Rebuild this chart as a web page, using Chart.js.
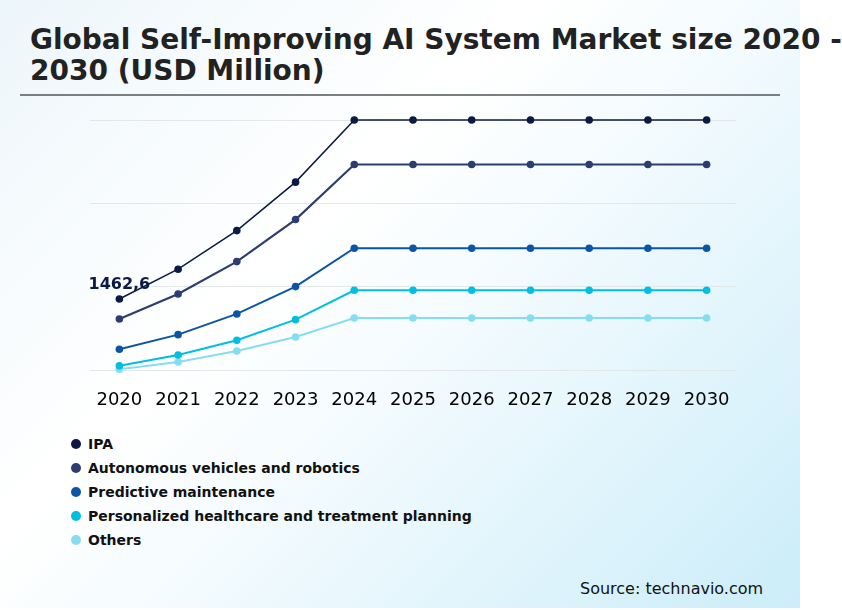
<!DOCTYPE html>
<html>
<head>
<meta charset="utf-8">
<script src="https://cdn.jsdelivr.net/npm/chart.js@4/dist/chart.umd.min.js"></script>
<style>
  html, body { margin: 0; padding: 0; background: #ffffff; }
  body { width: 842px; height: 610px; position: relative; overflow: hidden; font-family: "DejaVu Sans", sans-serif; }
  #bg { position: absolute; left: 0; top: 0; width: 800px; height: 608px;
        background: linear-gradient(135deg, #edf6fb 0%, #ffffff 38%, #f4fbfe 55%, #cbedf9 100%); }
  #title { position: absolute; left: 30px; top: 24px; font-size: 28px; font-weight: bold; color: #222222;
           line-height: 31px; white-space: nowrap; }
  #rule { position: absolute; left: 20px; top: 94px; width: 760px; height: 2px; background: #7a7f80; }
  #wrap { position: absolute; left: 0; top: 0; width: 842px; height: 420px; }
  #legend { position: absolute; left: 71px; top: 432px; }
  .item { height: 24px; display: flex; align-items: center; font-size: 14px; font-weight: bold; color: #111111; }
  .dot { width: 10px; height: 10px; border-radius: 50%; margin-right: 7px; flex: none; }
  #source { position: absolute; left: 580px; top: 579px; font-size: 16px; color: #111111; }
</style>
</head>
<body>
<div id="bg"></div>
<div id="title">Global Self-Improving AI System Market size 2020 -<br>2030 (USD Million)</div>
<div id="rule"></div>
<div id="wrap"><canvas id="c" width="842" height="420"></canvas></div>
<div id="legend"></div>
<div id="source">Source: technavio.com</div>
<script>
const years = ["2020","2021","2022","2023","2024","2025","2026","2027","2028","2029","2030"];
const seriesNames = ["IPA","Autonomous vehicles and robotics","Predictive maintenance","Personalized healthcare and treatment planning","Others"];
const ipa          = [1462.6, 2076, 2872, 3870, 5150, 5150, 5150, 5150, 5150, 5150, 5150];
const autonomous   = [1052, 1567, 2233, 3099, 4233, 4233, 4233, 4233, 4233, 4233, 4233];
const predictive   = [427, 728, 1155, 1718, 2509, 2509, 2509, 2509, 2509, 2509, 2509];
const personalized = [89, 309, 612, 1037, 1643, 1643, 1643, 1643, 1643, 1643, 1643];
const others       = [14, 165, 392, 680, 1072, 1072, 1072, 1072, 1072, 1072, 1072];
const axisMin = 0;
const axisMax = 5150;

const colors = ["#0b1a44", "#2d3e6e", "#0b56a4", "#00bfe0", "#85def0"];
const widths = [1.5, 2.2, 2, 2, 2];
const values = [ipa, autonomous, predictive, personalized, others];

const legend = document.getElementById('legend');
seriesNames.forEach((n, i) => {
  const d = document.createElement('div'); d.className = 'item';
  const dot = document.createElement('span'); dot.className = 'dot'; dot.style.background = colors[i];
  const t = document.createElement('span'); t.textContent = n;
  d.appendChild(dot); d.appendChild(t); legend.appendChild(d);
});

const labelPlugin = {
  id: 'firstLabel',
  afterDatasetsDraw(chart) {
    const meta = chart.getDatasetMeta(0);
    const pt = meta.data[0];
    const ctx = chart.ctx;
    ctx.save();
    ctx.font = 'bold 16px "DejaVu Sans"';
    ctx.fillStyle = colors[0];
    ctx.textAlign = 'center';
    ctx.textBaseline = 'middle';
    ctx.fillText(String(ipa[0]).replace('.', ','), pt.x, pt.y - 14);
    ctx.restore();
  }
};

new Chart(document.getElementById('c'), {
  type: 'line',
  data: {
    labels: years,
    datasets: values.map((v, i) => ({
      label: seriesNames[i],
      data: v,
      borderColor: colors[i],
      backgroundColor: colors[i],
      borderWidth: widths[i],
      pointRadius: 3.8,
      pointBorderWidth: 0,
      pointBackgroundColor: colors[i],
      tension: 0,
      clip: false
    }))
  },
  options: {
    responsive: false,
    animation: false,
    devicePixelRatio: 1,
    layout: { padding: { left: 90, right: 106, top: 120, bottom: 0 } },
    plugins: { legend: { display: false }, tooltip: { enabled: false } },
    scales: {
      x: {
        offset: true,
        grid: { display: false },
        border: { display: false },
        ticks: { color: '#000000', font: { family: 'DejaVu Sans', size: 18 }, padding: 12, maxRotation: 0 },
        afterFit(s) { s.height = 50; }
      },
      y: {
        min: axisMin, max: axisMax,
        grid: { color: '#e4e7ea', lineWidth: 1, drawTicks: false },
        border: { display: false },
        ticks: { display: false },
        afterBuildTicks(s) {
          const st = (axisMax - axisMin) / 3;
          s.ticks = [0, 1, 2, 3].map(k => ({ value: axisMin + k * st }));
        },
        afterFit(s) { s.width = 0; }
      }
    }
  },
  plugins: [labelPlugin]
});
</script>
</body>
</html>
